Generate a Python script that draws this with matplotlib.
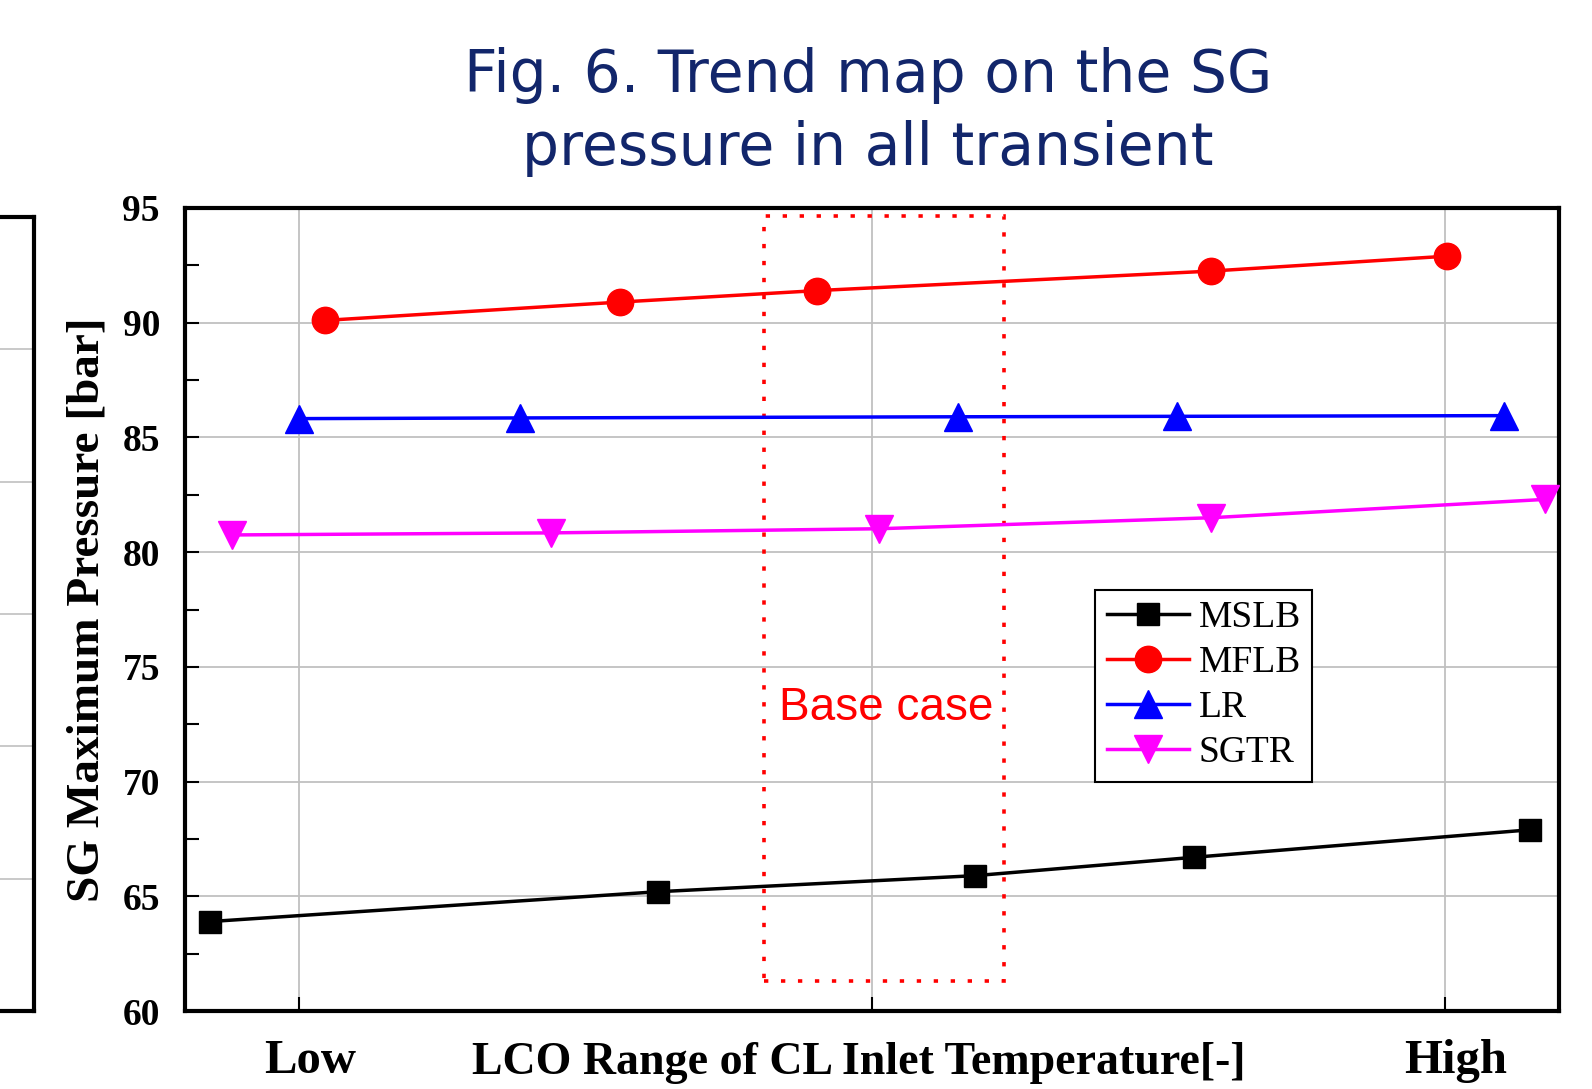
import matplotlib.pyplot as plt
import matplotlib.transforms as mtransforms
from matplotlib.patches import Rectangle

# data (x: 0 = Low, 1 = High)
mslb_x = [-0.078, 0.313, 0.590, 0.781, 1.075]
mslb_y = [63.9, 65.2, 65.9, 66.7, 67.9]
mflb_x = [0.022, 0.280, 0.452, 0.796, 1.002]
mflb_y = [90.1, 90.9, 91.4, 92.25, 92.9]
lr_x = [0.0, 0.193, 0.575, 0.766, 1.052]
lr_y = [85.82, 85.85, 85.9, 85.92, 85.95]
sgtr_x = [-0.059, 0.220, 0.506, 0.796, 1.088]
sgtr_y = [80.75, 80.84, 81.02, 81.5, 82.3]
xtick_pos = [0, 0.5, 1]
xtick_labels = ['Low', '', 'High']
left_grid = [1, 2, 3, 4, 5]

serif = 'Liberation Serif'
navy = '#12266b'

fig = plt.figure(figsize=(15.92, 10.89), dpi=100)

# cropped neighbour panel at the far left
axl = fig.add_axes([-0.05, 0.0716, 0.0714, 0.7291])
axl.set_xlim(0, 1)
axl.set_ylim(0, 6)
for y in left_grid:
    axl.axhline(y, color='#c0c0c0', lw=1.2)
axl.set_xticks([])
axl.set_yticks([])
axl.spines['left'].set_visible(False)
for s in ['top', 'bottom', 'right']:
    axl.spines[s].set_linewidth(3)

ax = fig.add_axes([0.1162, 0.0716, 0.8631, 0.7374])
ax.set_xlim(-0.1, 1.1)
ax.set_ylim(60, 95)

ax.plot(mslb_x, mslb_y, color='black', lw=2.5, marker='s', ms=16, label='MSLB', zorder=3)
ax.plot(mflb_x, mflb_y, color='red', lw=2.5, marker='o', ms=19, label='MFLB', zorder=3)
ax.plot(lr_x, lr_y, color='blue', lw=2.5, marker='^', ms=20, label='LR', zorder=3)
ax.plot(sgtr_x, sgtr_y, color='magenta', lw=2.5, marker='v', ms=20, label='SGTR', zorder=3)

# base case box
ax.add_patch(Rectangle((0.4055, 61.3), 0.2095, 33.35, fill=False, edgecolor='red',
                       lw=2.6, linestyle=(0, (1.2, 3.5)), zorder=2))
ax.text(0.419, 73.2, 'Base case', color='red', fontsize=33, family='Liberation Sans',
        va='center', ha='left')

ax.set_yticks(range(60, 96, 5))
ax.set_yticks([62.5 + 5 * i for i in range(7)], minor=True)
ax.set_xticks(xtick_pos)
ax.set_xticklabels(xtick_labels)
ax.grid(True, which='major', color='#c0c0c0', lw=1.3, zorder=0)
ax.set_axisbelow(True)

ax.tick_params(axis='y', which='both', direction='in', length=10, width=1.5, left=True,
               right=False, pad=18)
ax.tick_params(axis='x', direction='in', length=10, width=1.5, pad=20)
for lab in ax.get_yticklabels():
    lab.set_fontproperties({'family': serif, 'weight': 'bold', 'size': 27})
for lab in ax.get_xticklabels():
    lab.set_fontproperties({'family': serif, 'weight': 'bold', 'size': 35})

# Low / High sit a little right of their grid lines
shift = mtransforms.ScaledTranslation(0.11, 0, fig.dpi_scale_trans)
for lab in ax.xaxis.get_majorticklabels():
    lab.set_transform(lab.get_transform() + shift)

for s in ax.spines.values():
    s.set_linewidth(3)

ax.set_ylabel('SG Maximum Pressure [bar]', family=serif, weight='bold', fontsize=34)
ax.yaxis.set_label_coords(-0.056, 0.5)
ax.set_xlabel('LCO Range of CL Inlet Temperature[-]', family=serif, weight='bold', fontsize=33)
ax.xaxis.set_label_coords(0.49, -0.038)

leg = ax.legend(loc='lower left', bbox_to_anchor=(0.6625, 0.2857), borderaxespad=0,
                prop={'family': serif, 'size': 27}, fancybox=False, framealpha=1,
                edgecolor='black', handlelength=2.2, handletextpad=0.25,
                labelspacing=0.28, borderpad=0.3)
leg.get_frame().set_linewidth(1.5)

fig.text(0.545, 0.931, 'Fig. 6. Trend map on the SG', ha='center', va='center',
         color=navy, fontsize=42, family='DejaVu Sans')
fig.text(0.545, 0.864, 'pressure in all transient', ha='center', va='center',
         color=navy, fontsize=42, family='DejaVu Sans')

fig.savefig('out.png', dpi=100)
